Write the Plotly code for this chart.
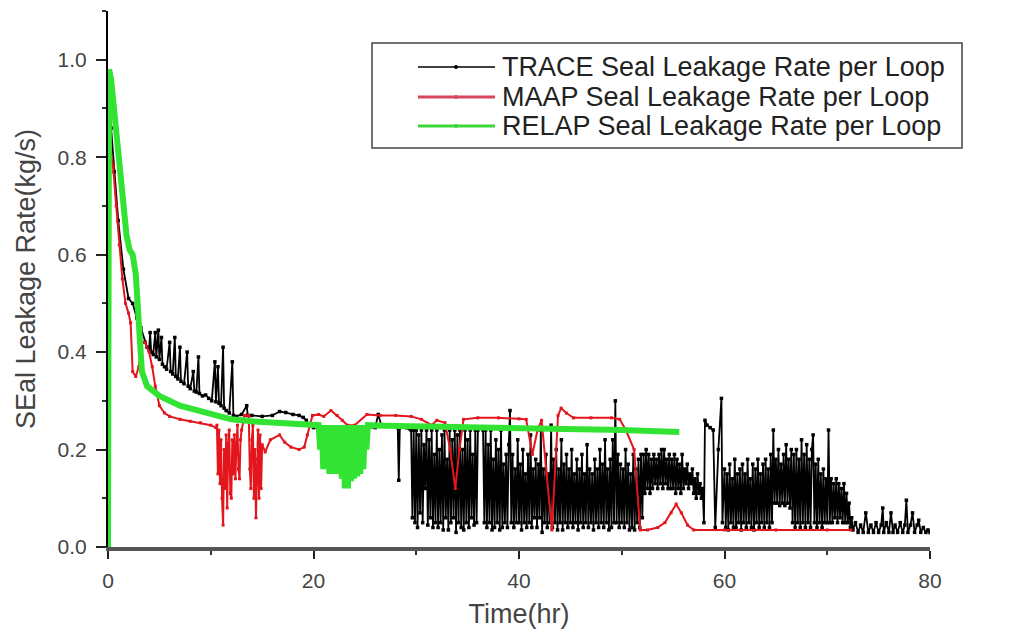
import plotly.graph_objects as go

# ---------------- data ----------------
TRACE_T = [
    0.0, 0.05, 0.3, 0.6, 1.0, 1.5, 2.0, 2.4, 2.8, 3.2,
    3.6, 3.8, 4.0, 4.1, 4.2, 4.4, 4.6, 4.7, 4.9, 5.0,
    5.2, 5.3, 5.5, 5.7, 6.0, 6.1, 6.3, 6.5, 6.6, 6.8,
    7.0, 7.1, 7.4, 7.7, 7.8, 8.0, 8.3, 8.4, 8.6, 8.8,
    8.9, 9.2, 9.5, 9.8, 10.1, 10.4, 10.5, 10.7, 10.8, 11.0,
    11.2, 11.3, 11.5, 11.8, 12.1, 12.2,
    12.5, 13.0, 13.5, 13.6, 14.0, 15.0, 16.0, 16.7, 17.3, 18.0,
    18.6, 19.0, 19.3, 19.6, 20.0, 23.0, 26.0, 26.3, 26.6, 28.2,
    28.3, 28.4, 29.4,
    29.5, 29.625, 29.75, 29.875,
    30.0, 30.125, 30.25, 30.375, 30.5, 30.625, 30.75, 30.875,
    31.0, 31.125, 31.25, 31.375, 31.5, 31.625, 31.75, 31.875,
    32.0, 32.125, 32.25, 32.375, 32.5, 32.625, 32.75, 32.875,
    33.0, 33.125, 33.25, 33.375, 33.5, 33.625, 33.75, 33.875,
    34.0, 34.125, 34.25, 34.375, 34.5, 34.625, 34.75, 34.875,
    35.0, 35.125, 35.25, 35.375, 35.5, 35.625, 35.75, 35.875,
    36.0, 36.125, 36.25, 36.375, 36.5, 36.625, 36.75, 36.875,
    37.0, 37.125, 37.25, 37.375, 37.5, 37.625, 37.75, 37.875,
    38.0, 38.125, 38.25, 38.375, 38.5, 38.625, 38.75, 38.875,
    39.0, 39.125, 39.25, 39.375, 39.5, 39.625, 39.75, 39.875,
    40.0, 40.125, 40.25, 40.375, 40.5, 40.625, 40.75, 40.875,
    41.0, 41.125, 41.25, 41.375, 41.5, 41.625, 41.75, 41.875,
    42.0, 42.125, 42.25, 42.375, 42.5, 42.625, 42.75, 42.875,
    43.0, 43.125, 43.25, 43.375, 43.5, 43.625, 43.75, 43.875,
    44.0, 44.125, 44.25, 44.375, 44.5, 44.625, 44.75, 44.875,
    45.0, 45.125, 45.25, 45.375, 45.5, 45.625, 45.75, 45.875,
    46.0, 46.125, 46.25, 46.375, 46.5, 46.625, 46.75, 46.875,
    47.0, 47.125, 47.25, 47.375, 47.5, 47.625, 47.75, 47.875,
    48.0, 48.125, 48.25, 48.375, 48.5, 48.625, 48.75, 48.875,
    49.0, 49.125, 49.25, 49.375, 49.5, 49.625, 49.75, 49.875,
    50.0, 50.125, 50.25, 50.375, 50.5, 50.625, 50.75, 50.875,
    51.0, 51.125, 51.25, 51.375, 51.5, 51.625, 51.75, 51.875,
    52.0, 52.125, 52.25, 52.375, 52.5, 52.625, 52.75, 52.875,
    53.0, 53.125, 53.25, 53.375, 53.5, 53.625, 53.75, 53.875,
    54.0, 54.125, 54.25, 54.375, 54.5, 54.625, 54.75, 54.875,
    55.0, 55.125, 55.25, 55.375, 55.5, 55.625, 55.75, 55.875,
    56.0, 56.125, 56.25, 56.375, 56.5, 56.625, 56.75, 56.875,
    57.0, 57.125, 57.25, 57.375, 57.5, 57.625, 57.75, 57.875,
    58.0, 58.1, 58.3, 58.6, 58.9, 59.1, 59.4, 59.7, 59.8,
    60.0, 60.125, 60.25, 60.375, 60.5, 60.625, 60.75, 60.875,
    61.0, 61.125, 61.25, 61.375, 61.5, 61.625, 61.75, 61.875,
    62.0, 62.125, 62.25, 62.375, 62.5, 62.625, 62.75, 62.875,
    63.0, 63.125, 63.25, 63.375, 63.5, 63.625, 63.75, 63.875,
    64.0, 64.125, 64.25, 64.375, 64.5, 64.625, 64.75, 64.875,
    65.0, 65.125, 65.25, 65.375, 65.5, 65.625, 65.75, 65.875,
    66.0, 66.125, 66.25, 66.375, 66.5, 66.625, 66.75, 66.875,
    67.0, 67.125, 67.25, 67.375, 67.5, 67.625, 67.75, 67.875,
    68.0, 68.125, 68.25, 68.375, 68.5, 68.625, 68.75, 68.875,
    69.0, 69.125, 69.25, 69.375, 69.5, 69.625, 69.75, 69.875,
    70.0, 70.125, 70.25, 70.375, 70.5, 70.625, 70.75, 70.875,
    71.0, 71.125, 71.25, 71.375, 71.5, 71.625, 71.75, 71.875,
    72.0, 72.125, 72.25, 72.375,
    72.5, 72.75, 73.0, 73.25, 73.5, 73.75, 74.0, 74.25, 74.5, 74.75,
    75.0, 75.25, 75.4, 75.5, 75.75, 76.0, 76.2, 76.4, 76.6, 76.85,
    77.1, 77.35, 77.55, 77.7, 77.85, 78.1, 78.3, 78.5, 78.75, 78.9,
    79.1, 79.35, 79.6, 79.8, 80.0,
]
TRACE_V = [
    0.28, 0.93, 0.86, 0.77, 0.67, 0.57, 0.51, 0.50, 0.47, 0.45,
    0.42, 0.41, 0.405, 0.44, 0.40, 0.395, 0.44, 0.39, 0.445, 0.385,
    0.43, 0.375, 0.37, 0.365, 0.42, 0.36, 0.355, 0.43, 0.35, 0.345,
    0.41, 0.34, 0.335, 0.40, 0.33, 0.325, 0.36, 0.32, 0.318, 0.39,
    0.315, 0.31, 0.312, 0.305, 0.30, 0.38, 0.298, 0.37, 0.295, 0.29,
    0.41, 0.285, 0.28, 0.275, 0.38, 0.27,
    0.268, 0.272, 0.29, 0.27, 0.27, 0.268, 0.27, 0.278, 0.276, 0.272,
    0.27, 0.266, 0.26, 0.25, 0.245, 0.245, 0.245, 0.272, 0.25, 0.245,
    0.137, 0.245, 0.242,
    0.24, 0.06, 0.24, 0.05,
    0.24, 0.04, 0.23, 0.07, 0.24, 0.05, 0.21, 0.12,
    0.24, 0.045, 0.22, 0.06, 0.24, 0.04, 0.19, 0.05,
    0.24, 0.04, 0.20, 0.05, 0.23, 0.035, 0.24, 0.06,
    0.18, 0.035, 0.24, 0.05, 0.22, 0.06, 0.24, 0.03,
    0.23, 0.05, 0.24, 0.04, 0.20, 0.035, 0.24, 0.05,
    0.22, 0.04, 0.24, 0.06, 0.19, 0.045, 0.24, 0.05,
    0.24, 0.245, 0.245, 0.245, 0.24, 0.05, 0.24, 0.04,
    0.21, 0.05, 0.24, 0.035, 0.18, 0.04, 0.22, 0.05,
    0.20, 0.035, 0.24, 0.04, 0.17, 0.05, 0.19, 0.04,
    0.21, 0.28, 0.05, 0.19, 0.04, 0.16, 0.05, 0.22,
    0.05, 0.17, 0.035, 0.20, 0.05, 0.15, 0.04, 0.19,
    0.05, 0.23, 0.04, 0.16, 0.06, 0.18, 0.04, 0.17,
    0.06, 0.24, 0.03, 0.16, 0.05, 0.19, 0.04, 0.15,
    0.05, 0.25, 0.04, 0.18, 0.05, 0.20, 0.035, 0.16,
    0.05, 0.22, 0.035, 0.17, 0.05, 0.19, 0.04, 0.16,
    0.05, 0.20, 0.04, 0.15, 0.05, 0.18, 0.035, 0.16,
    0.05, 0.19, 0.04, 0.15, 0.05, 0.21, 0.04, 0.16,
    0.05, 0.15, 0.035, 0.18, 0.05, 0.16, 0.04, 0.20,
    0.05, 0.17, 0.04, 0.22, 0.05, 0.16, 0.035, 0.18,
    0.04, 0.22, 0.05, 0.30, 0.05, 0.19, 0.04, 0.17,
    0.05, 0.16, 0.04, 0.20, 0.05, 0.17, 0.035, 0.15,
    0.04, 0.19, 0.035, 0.16, 0.05, 0.18, 0.04, 0.19,
    0.06, 0.19, 0.11, 0.20, 0.12, 0.19, 0.11, 0.18,
    0.12, 0.19, 0.13, 0.18, 0.12, 0.19, 0.13, 0.20,
    0.12, 0.20, 0.13, 0.18, 0.12, 0.19, 0.12, 0.18,
    0.12, 0.19, 0.11, 0.18, 0.12, 0.17, 0.11, 0.19,
    0.12, 0.16, 0.13, 0.17, 0.12, 0.15, 0.13, 0.16,
    0.11, 0.14, 0.10, 0.15, 0.11, 0.13, 0.10, 0.12,
    0.05, 0.26, 0.25, 0.245, 0.24, 0.04, 0.20, 0.305, 0.05,
    0.16, 0.04, 0.15, 0.035, 0.17, 0.05, 0.14, 0.04,
    0.18, 0.04, 0.15, 0.05, 0.16, 0.035, 0.17, 0.05,
    0.15, 0.04, 0.18, 0.05, 0.14, 0.04, 0.17, 0.035,
    0.16, 0.05, 0.18, 0.04, 0.15, 0.05, 0.17, 0.04,
    0.18, 0.05, 0.16, 0.04, 0.19, 0.05, 0.24, 0.09,
    0.18, 0.09, 0.20, 0.085, 0.17, 0.09, 0.19, 0.085,
    0.21, 0.09, 0.18, 0.08, 0.20, 0.05, 0.19, 0.04,
    0.20, 0.05, 0.18, 0.04, 0.22, 0.05, 0.19, 0.04,
    0.21, 0.05, 0.18, 0.04, 0.20, 0.23, 0.05, 0.17,
    0.04, 0.18, 0.05, 0.15, 0.04, 0.16, 0.05, 0.14,
    0.05, 0.24, 0.05, 0.14, 0.05, 0.13, 0.06, 0.14,
    0.05, 0.13, 0.06, 0.12, 0.05, 0.13, 0.05, 0.11,
    0.05, 0.09, 0.04, 0.06,
    0.035, 0.05, 0.03, 0.045, 0.03, 0.07, 0.03, 0.045, 0.03, 0.05,
    0.03, 0.045, 0.08, 0.03, 0.05, 0.03, 0.07, 0.03, 0.045, 0.03,
    0.05, 0.03, 0.045, 0.096, 0.03, 0.045, 0.07, 0.03, 0.045, 0.055,
    0.03, 0.04, 0.03, 0.035, 0.03,
]

MAAP_T = [
    0.0, 0.1, 0.2, 0.5, 0.8, 1.1, 1.4, 1.7, 2.0, 2.2,
    2.4, 2.7, 3.0, 3.3, 3.6, 4.0, 4.3, 4.6, 5.0, 5.5,
    6.0, 7.0, 8.0, 9.0, 10.0, 10.5, 10.6, 10.7, 10.8, 10.9,
    11.0, 11.1, 11.2, 11.3, 11.4, 11.5, 11.6, 11.7, 11.8, 11.9,
    12.0, 12.1, 12.2, 12.3, 12.4, 12.5, 12.6, 12.7, 12.8, 12.9,
    13.0, 13.3, 13.7, 13.8, 13.9, 14.0, 14.1, 14.2, 14.3, 14.4,
    14.5, 14.6, 14.7, 14.8, 14.9, 15.0, 15.3,
    15.8, 16.7, 17.2, 17.8, 18.6, 19.1, 19.4, 19.9, 20.5, 21.0,
    21.7, 22.3, 22.8, 23.3, 24.0, 25.2, 26.5, 28.0, 29.5, 30.5,
    31.5, 32.0, 32.8, 33.3, 33.8, 34.2, 34.6, 36.0, 38.0, 40.0,
    40.7, 41.3, 41.8, 42.2, 42.7, 43.2, 43.8, 44.1, 44.6, 45.3,
    47.0, 49.0, 49.8, 50.4, 51.2, 51.8, 52.5, 53.5, 54.2, 54.8,
    55.3, 55.8, 56.4, 57.0, 60.0, 65.0, 70.0, 72.3,
]
MAAP_V = [
    0.0, 0.30, 0.82, 0.78, 0.70, 0.62, 0.55, 0.50, 0.48, 0.46,
    0.36, 0.35, 0.37, 0.42, 0.42, 0.40, 0.37, 0.33, 0.29, 0.275,
    0.268, 0.262, 0.258, 0.255, 0.25, 0.245, 0.25, 0.15, 0.24, 0.13,
    0.22, 0.10, 0.045, 0.20, 0.12, 0.23, 0.08, 0.21, 0.24, 0.11,
    0.10, 0.22, 0.15, 0.23, 0.14, 0.21, 0.25, 0.16, 0.14, 0.22,
    0.24, 0.27, 0.27, 0.16, 0.12, 0.22, 0.25, 0.10, 0.20, 0.06,
    0.18, 0.24, 0.10, 0.23, 0.12, 0.21, 0.195,
    0.22, 0.23, 0.215, 0.205, 0.20, 0.205, 0.23, 0.27, 0.272, 0.268,
    0.28, 0.27, 0.26, 0.25, 0.25, 0.272, 0.27, 0.27, 0.268, 0.262,
    0.25, 0.26, 0.255, 0.20, 0.12, 0.20, 0.262, 0.265, 0.265, 0.263,
    0.262, 0.19, 0.24, 0.26, 0.15, 0.035, 0.27, 0.285, 0.275, 0.265,
    0.265, 0.265, 0.262, 0.24, 0.20, 0.035, 0.035, 0.04, 0.05, 0.07,
    0.088, 0.07, 0.045, 0.035, 0.035, 0.035, 0.035, 0.035,
]

RELAP_T = [
    0.0, 0.02, 0.1, 0.3, 0.6, 1.0, 1.4, 1.8, 2.1, 2.4,
    2.7, 2.9, 3.05, 3.3, 3.8, 5.0, 7.0, 9.0, 10.5, 12.0,
    14.0, 16.0, 19.0, 20.5, 20.65, 20.8, 20.95, 21.1, 21.25, 21.4,
    21.55, 21.7, 21.85, 22.0, 22.15, 22.3, 22.45, 22.6, 22.75, 22.9,
    23.05, 23.2, 23.35, 23.5, 23.65, 23.8, 23.95, 24.1, 24.25, 24.4,
    24.55, 24.7, 24.85, 25.0, 25.15, 25.3, 27.0, 30.0, 35.0, 40.0,
    45.0, 50.0, 55.6,
]
RELAP_V = [
    0.0, 0.29, 0.98, 0.96, 0.89, 0.80, 0.71, 0.64, 0.61, 0.60,
    0.56, 0.50, 0.43, 0.36, 0.33, 0.31, 0.29, 0.278, 0.268, 0.262,
    0.258, 0.255, 0.252, 0.25, 0.20, 0.25, 0.16, 0.25, 0.17, 0.25,
    0.15, 0.25, 0.16, 0.25, 0.15, 0.25, 0.17, 0.25, 0.14, 0.25,
    0.12, 0.25, 0.12, 0.25, 0.135, 0.25, 0.14, 0.25, 0.145, 0.25,
    0.15, 0.25, 0.16, 0.25, 0.20, 0.25, 0.249, 0.248, 0.246, 0.244,
    0.242, 0.24, 0.236,
]

SERIES_NAMES = [
    "TRACE Seal Leakage Rate per Loop",
    "MAAP Seal Leakage Rate per Loop",
    "RELAP Seal Leakage Rate per Loop",
]
X_TICKS = [0, 20, 40, 60, 80]
Y_TICKS = [0.0, 0.2, 0.4, 0.6, 0.8, 1.0]

assert len(TRACE_T) == len(TRACE_V)
assert len(MAAP_T) == len(MAAP_V)
assert len(RELAP_T) == len(RELAP_V)

# ---------------- figure ----------------
W, H = 1025, 635
OFF = 8  # page body margin of the browser
ML, MR, MT, MB = 100, 103, 3, 96
PW, PH = W - ML - MR, H - MT - MB
FONT = "Liberation Sans, Arial, sans-serif"


def px_x(p):
    return (p - OFF - ML) / PW


def px_y(p):
    return (H - MB - (p - OFF)) / PH


fig = go.Figure()
fig.add_trace(go.Scatter(
    x=TRACE_T, y=TRACE_V, mode="lines+markers", name=SERIES_NAMES[0],
    line=dict(color="black", width=1.8),
    marker=dict(symbol="square", size=3.5, color="black"),
    showlegend=False,
))
fig.add_trace(go.Scatter(
    x=MAAP_T, y=MAAP_V, mode="lines+markers", name=SERIES_NAMES[1],
    line=dict(color="#e3161d", width=2),
    marker=dict(symbol="square", size=3, color="#e3161d"),
    showlegend=False,
))
fig.add_trace(go.Scatter(
    x=RELAP_T, y=RELAP_V, mode="lines", name=SERIES_NAMES[2],
    line=dict(color="#33e333", width=6),
    showlegend=False,
))

# legend drawn as a framed box with sample lines and real text
shapes = [dict(type="rect", xref="paper", yref="paper",
               x0=px_x(372), x1=px_x(962), y0=px_y(148), y1=px_y(43),
               line=dict(color="#444", width=1.5), fillcolor="rgba(0,0,0,0)")]
legend_rows = [67, 97, 126]
legend_cols = ["black", "#d8465c", "#3ad63a"]
legend_w = [1.3, 3, 3]
annotations = []
for name, row, col, lw in zip(SERIES_NAMES, legend_rows, legend_cols, legend_w):
    shapes.append(dict(type="line", xref="paper", yref="paper",
                       x0=px_x(418), x1=px_x(495), y0=px_y(row), y1=px_y(row),
                       line=dict(color=col, width=lw)))
    shapes.append(dict(type="circle", xref="paper", yref="paper",
                       x0=px_x(454), x1=px_x(458), y0=px_y(row + 2), y1=px_y(row - 2),
                       line=dict(color=col, width=0), fillcolor=col))
    annotations.append(dict(xref="paper", yref="paper", x=px_x(500), y=px_y(row),
                            xanchor="left", yanchor="middle", showarrow=False,
                            text=name, font=dict(family=FONT, size=27, color="#222")))

fig.update_layout(
    width=W, height=H,
    margin=dict(l=ML, r=MR, t=MT, b=MB, pad=0),
    paper_bgcolor="white", plot_bgcolor="white",
    showlegend=False,
    shapes=shapes, annotations=annotations,
    font=dict(family=FONT, color="#444"),
)
fig.update_xaxes(
    range=[0, 80], tickvals=X_TICKS, showgrid=False, zeroline=False,
    showline=True, linecolor="#555", linewidth=3.5,
    ticks="outside", ticklen=8, tickwidth=2, tickcolor="#222",
    minor=dict(dtick=10, ticks="outside", ticklen=4, tickwidth=2, tickcolor="#333", showgrid=False),
    tickfont=dict(family=FONT, size=21, color="#444"), ticklabelstandoff=4,
    title=dict(text="Time(hr)", font=dict(family=FONT, size=27, color="#444"), standoff=14),
    automargin=False,
)
fig.update_yaxes(
    range=[0, 1.1], tickvals=Y_TICKS, tickformat=".1f", showgrid=False, zeroline=False,
    showline=True, linecolor="black", linewidth=2,
    ticks="outside", ticklen=10, tickwidth=2, tickcolor="#222",
    minor=dict(tickvals=[0.1, 0.3, 0.5, 0.7, 0.9, 1.1], ticks="outside", ticklen=4,
               tickwidth=2, tickcolor="#333", showgrid=False),
    tickfont=dict(family=FONT, size=21, color="#444"), ticklabelstandoff=5,
    title=dict(text="SEal Leakage Rate(kg/s)", font=dict(family=FONT, size=27, color="#444"), standoff=14),
    automargin=False,
)

fig.write_html("out.html")
